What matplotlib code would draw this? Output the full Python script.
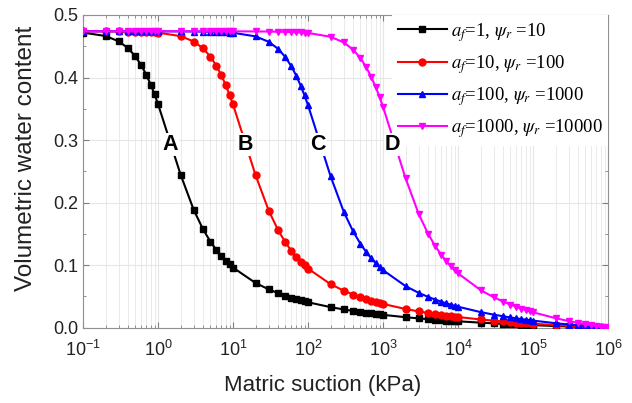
import matplotlib
matplotlib.use("Agg")
import matplotlib.pyplot as plt
import numpy as np
from matplotlib.ticker import FixedLocator, MultipleLocator, FuncFormatter, NullFormatter

# suction points: 1..9 x 10^k, 0.1 kPa to 1e6 kPa
suction = np.array([m * 10.0 ** k for k in range(-1, 6) for m in range(1, 10)] + [1e6])

theta_a = [0.4719, 0.4664, 0.4579, 0.4468, 0.4338, 0.4194, 0.4042, 0.3887, 0.3731,
           0.3579, 0.2449, 0.1882, 0.1571, 0.1377, 0.1243, 0.1146, 0.1071, 0.1011,
           0.0962, 0.0715, 0.0613, 0.0553, 0.0511, 0.0481, 0.0457, 0.0438, 0.0421,
           0.0407, 0.0329, 0.0292, 0.0268, 0.0251, 0.0238, 0.0228, 0.0219, 0.0212,
           0.0206, 0.0168, 0.0149, 0.0137, 0.0128, 0.0121, 0.0115, 0.0111, 0.0106,
           0.0103, 0.0081, 0.0070, 0.0063, 0.0057, 0.0053, 0.0049, 0.0046, 0.0043,
           0.0041, 0.0027, 0.0020, 0.0015, 0.0011, 0.0008, 0.0005, 0.0003, 0.0002,
           0.0]
theta_b = [0.4739, 0.4738, 0.4737, 0.4735, 0.4733, 0.4731, 0.4728, 0.4725, 0.4721,
           0.4718, 0.4662, 0.4576, 0.4465, 0.4334, 0.4189, 0.4036, 0.3880, 0.3724,
           0.3572, 0.2439, 0.1871, 0.1559, 0.1364, 0.1230, 0.1132, 0.1056, 0.0996,
           0.0946, 0.0696, 0.0592, 0.0530, 0.0488, 0.0457, 0.0432, 0.0412, 0.0395,
           0.0381, 0.0299, 0.0261, 0.0236, 0.0219, 0.0205, 0.0194, 0.0185, 0.0178,
           0.0171, 0.0132, 0.0113, 0.0100, 0.0090, 0.0083, 0.0077, 0.0072, 0.0068,
           0.0064, 0.0042, 0.0030, 0.0022, 0.0016, 0.0012, 0.0008, 0.0005, 0.0002,
           0.0]
theta_c = [0.4740, 0.4740, 0.4740, 0.4740, 0.4740, 0.4740, 0.4740, 0.4740, 0.4740,
           0.4739, 0.4738, 0.4736, 0.4734, 0.4732, 0.4730, 0.4727, 0.4723, 0.4720,
           0.4716, 0.4658, 0.4571, 0.4458, 0.4326, 0.4180, 0.4026, 0.3869, 0.3713,
           0.3560, 0.2423, 0.1853, 0.1539, 0.1343, 0.1208, 0.1109, 0.1032, 0.0971,
           0.0921, 0.0665, 0.0557, 0.0493, 0.0449, 0.0416, 0.0390, 0.0369, 0.0351,
           0.0336, 0.0250, 0.0209, 0.0183, 0.0164, 0.0150, 0.0139, 0.0129, 0.0121,
           0.0114, 0.0072, 0.0051, 0.0038, 0.0028, 0.0020, 0.0014, 0.0009, 0.0004,
           0.0]
theta_d = [0.4740, 0.4740, 0.4740, 0.4740, 0.4740, 0.4740, 0.4740, 0.4740, 0.4740,
           0.4740, 0.4740, 0.4740, 0.4740, 0.4740, 0.4739, 0.4739, 0.4739, 0.4739,
           0.4739, 0.4737, 0.4735, 0.4733, 0.4730, 0.4728, 0.4724, 0.4721, 0.4717,
           0.4713, 0.4652, 0.4561, 0.4445, 0.4311, 0.4162, 0.4006, 0.3848, 0.3689,
           0.3535, 0.2390, 0.1816, 0.1500, 0.1301, 0.1164, 0.1063, 0.0985, 0.0922,
           0.0870, 0.0602, 0.0487, 0.0418, 0.0371, 0.0335, 0.0306, 0.0283, 0.0264,
           0.0247, 0.0152, 0.0106, 0.0077, 0.0056, 0.0040, 0.0028, 0.0017, 0.0008,
           0.0]

labels = [r'$a_f$=1, $\psi_r$ =10', r'$a_f$=10, $\psi_r$ =100',
          r'$a_f$=100, $\psi_r$ =1000', r'$a_f$=1000, $\psi_r$ =10000']
letters = ['A', 'B', 'C', 'D']
letter_x = [1.45, 14.5, 135, 1350]
letter_y = 0.293

plt.rcParams['font.family'] = ['Liberation Sans', 'DejaVu Sans']
plt.rcParams['mathtext.fontset'] = 'stix'

fig = plt.figure(figsize=(6.32, 4.03), dpi=100)
ax = fig.add_axes([0.1313, 0.1868, 0.8307, 0.776])

styles = [('black', 's', 4.5), ('red', 'o', 5.0), ('blue', '^', 5.0), ('magenta', 'v', 5.0)]
for theta, (col, mk, ms), lab in zip([theta_a, theta_b, theta_c, theta_d], styles, labels):
    ax.plot(suction, theta, color=col, marker=mk, markersize=ms, lw=1.5, label=lab, zorder=3)

for t, x in zip(letters, letter_x):
    ax.text(x, letter_y, t, fontsize=15.5, fontweight='bold', ha='center', va='center',
            bbox=dict(facecolor='white', edgecolor='none', pad=1.0), zorder=7)

ax.set_xscale('log')
ax.set_xlim(0.1, 1e6)
ax.set_ylim(0, 0.5)
decades = [10.0 ** k for k in range(-1, 7)]
ax.xaxis.set_major_locator(FixedLocator(decades))
ax.xaxis.set_minor_locator(FixedLocator(suction[suction < 1e6]))
ax.xaxis.set_minor_formatter(NullFormatter())
ax.xaxis.set_major_formatter(FuncFormatter(lambda v, p: r'$\mathregular{10^{%d}}$' % round(np.log10(v))))
ax.yaxis.set_major_locator(MultipleLocator(0.1))
ax.yaxis.set_minor_locator(MultipleLocator(0.05))
ax.yaxis.set_major_formatter(FuncFormatter(lambda v, p: '%.1f' % v))

ax.grid(True, which='major', color='#e6e6e6', lw=0.8)
ax.grid(True, which='minor', axis='x', color='#e6e6e6', lw=0.6)
ax.set_axisbelow(True)
ax.tick_params(which='both', direction='in', top=True, right=True, colors='#808080',
               labelcolor='#222222', labelsize=13)
ax.tick_params(which='major', length=4)
ax.tick_params(which='minor', length=2.5)
ax.tick_params(axis='x', which='major', pad=8.5)
for s in ax.spines.values():
    s.set_color('#909090')

ax.set_xlabel('Matric suction (kPa)', fontsize=16, color='#222222')
ax.xaxis.set_label_coords((323 - 83) / 525, -(385 - 327.7) / 312.7)
ax.xaxis.label.set_va('center')
ax.set_ylabel('Volumetric water content', fontsize=17.5, color='#222222')
ax.yaxis.set_label_coords(-(83 - 26) / 525, (327.7 - 158) / 312.7)
ax.yaxis.label.set_va('center')

leg = ax.legend(loc='upper right', borderaxespad=0.0, frameon=True, fancybox=False,
                prop={'family': 'Liberation Serif', 'size': 13.5}, handlelength=2.6,
                handletextpad=0.2, labelspacing=0.5, borderpad=0.3)
leg.get_frame().set_edgecolor('none')
leg.get_frame().set_alpha(1.0)
leg.set_zorder(5)

fig.savefig('out.png', dpi=100)
